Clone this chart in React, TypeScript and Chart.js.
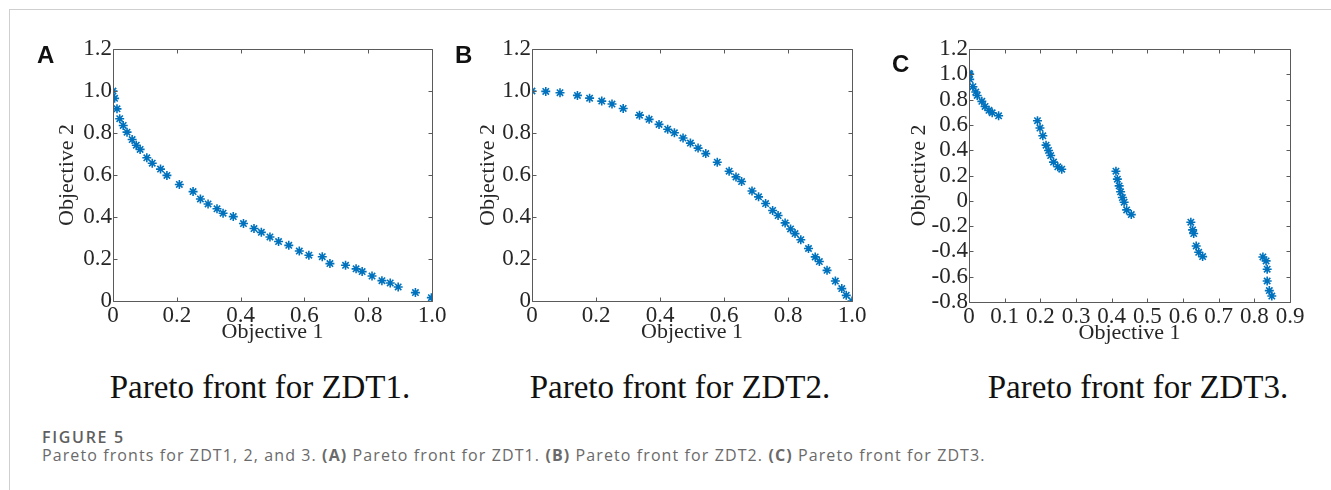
import React, { useEffect, useRef } from "react";
import { Chart, registerables } from "chart.js";

Chart.register(...registerables);

// ---------- Data ----------
const zdt1X = [0, 0.005, 0.0125, 0.021, 0.032, 0.044, 0.06, 0.073, 0.085, 0.106, 0.123, 0.149, 0.169, 0.208, 0.251, 0.274, 0.298, 0.326, 0.345, 0.377, 0.409, 0.442, 0.465, 0.492, 0.519, 0.551, 0.584, 0.614, 0.656, 0.68, 0.729, 0.762, 0.781, 0.812, 0.843, 0.869, 0.894, 0.948, 0.998];
const zdt1Y = [1.0, 0.965, 0.915, 0.868, 0.836, 0.804, 0.769, 0.742, 0.722, 0.682, 0.656, 0.628, 0.598, 0.555, 0.521, 0.486, 0.462, 0.439, 0.418, 0.402, 0.369, 0.345, 0.327, 0.305, 0.283, 0.265, 0.238, 0.218, 0.211, 0.178, 0.17, 0.153, 0.14, 0.119, 0.097, 0.086, 0.067, 0.04, 0.016];

const zdt2X = [0, 0.043, 0.0875, 0.142, 0.18, 0.218, 0.25, 0.285, 0.336, 0.366, 0.397, 0.424, 0.445, 0.472, 0.495, 0.519, 0.543, 0.579, 0.616, 0.6375, 0.655, 0.6875, 0.708, 0.73, 0.752, 0.769, 0.791, 0.808, 0.822, 0.84, 0.864, 0.885, 0.898, 0.922, 0.948, 0.968, 0.982, 1.0];
const zdt2Y = [1.0, 0.998, 0.992, 0.979, 0.966, 0.952, 0.938, 0.917, 0.885, 0.865, 0.841, 0.818, 0.801, 0.776, 0.752, 0.728, 0.702, 0.661, 0.618, 0.591, 0.569, 0.524, 0.496, 0.464, 0.431, 0.407, 0.372, 0.343, 0.321, 0.292, 0.25, 0.21, 0.188, 0.146, 0.095, 0.059, 0.027, 0];

const zdt3X = [0, 0.002, 0.002, 0.011, 0.019, 0.023, 0.036, 0.045, 0.056, 0.065, 0.083, 0.192, 0.199, 0.207, 0.216, 0.223, 0.229, 0.237, 0.249, 0.26, 0.412, 0.416, 0.421, 0.425, 0.43, 0.435, 0.442, 0.455, 0.622, 0.627, 0.63, 0.637, 0.644, 0.655, 0.824, 0.833, 0.836, 0.836, 0.842, 0.849];
const zdt3Y = [1.007, 1.0, 0.96, 0.902, 0.86, 0.833, 0.786, 0.746, 0.715, 0.696, 0.672, 0.633, 0.575, 0.514, 0.44, 0.398, 0.358, 0.306, 0.269, 0.25, 0.234, 0.171, 0.118, 0.071, 0.026, -0.011, -0.072, -0.109, -0.169, -0.23, -0.259, -0.357, -0.407, -0.441, -0.444, -0.475, -0.541, -0.634, -0.71, -0.753];

const panelLetters = ["A", "B", "C"];
const panelTitles = ["Pareto front for ZDT1.", "Pareto front for ZDT2.", "Pareto front for ZDT3."];
const xAxisTitle = "Objective 1";
const yAxisTitle = "Objective 2";
const figureLabel = "FIGURE 5";

const MARKER = "#0072BD";
const TEXT = "#262626";
const FRAME = "#5a5a5a";

const fmt = (v: number) => (Math.abs(v) < 1e-9 ? "0" : v.toFixed(1));

const framePlugin = {
  id: "matlabFrame",
  afterDraw(chart: any) {
    const { ctx, chartArea } = chart;
    const l = Math.round(chartArea.left) + 0.5;
    const r = Math.round(chartArea.right) + 0.5;
    const t = Math.round(chartArea.top) + 0.5;
    const b = Math.round(chartArea.bottom) + 0.5;
    const tl = 4;
    ctx.save();
    ctx.strokeStyle = FRAME;
    ctx.lineWidth = 1;
    ctx.beginPath();
    ctx.rect(l, t, r - l, b - t);
    const xs = chart.scales.x;
    xs.ticks.forEach((tk: any) => {
      const p = Math.round(xs.getPixelForValue(tk.value)) + 0.5;
      ctx.moveTo(p, b);
      ctx.lineTo(p, b - tl);
      ctx.moveTo(p, t);
      ctx.lineTo(p, t + tl);
    });
    const ys = chart.scales.y;
    ys.ticks.forEach((tk: any) => {
      const p = Math.round(ys.getPixelForValue(tk.value)) + 0.5;
      ctx.moveTo(l, p);
      ctx.lineTo(l + tl, p);
      ctx.moveTo(r, p);
      ctx.lineTo(r - tl, p);
    });
    ctx.stroke();
    ctx.restore();
  },
};

type PanelCfg = {
  xs: number[];
  ys: number[];
  xMin: number;
  xMax: number;
  xStep: number;
  yMin: number;
  yMax: number;
  yStep: number;
  left: number;
  top: number;
  width: number;
  height: number;
  yAxisWidth: number;
  xAxisHeight: number;
  padTop: number;
  padRight: number;
};

function Panel({ cfg }: { cfg: PanelCfg }) {
  const ref = useRef<HTMLCanvasElement | null>(null);
  useEffect(() => {
    if (!ref.current) return;
    const pts = cfg.xs.map((x, i) => ({ x, y: cfg.ys[i] }));
    const tickFont = { family: "'Liberation Serif', 'Times New Roman', serif", size: 23 };
    const titleFont = { family: "'Liberation Serif', 'Times New Roman', serif", size: 22 };
    const chart = new Chart(ref.current, {
      type: "scatter",
      data: {
        datasets: [
          {
            data: pts,
            pointStyle: "star",
            pointRadius: 4.5,
            pointBorderWidth: 1.6,
            borderColor: MARKER,
            backgroundColor: MARKER,
          },
        ],
      },
      options: {
        animation: false,
        responsive: false,
        maintainAspectRatio: false,
        layout: { padding: { top: cfg.padTop, right: cfg.padRight, left: 0, bottom: 0 } },
        plugins: { legend: { display: false }, tooltip: { enabled: false } },
        scales: {
          x: {
            type: "linear",
            min: cfg.xMin,
            max: cfg.xMax,
            grid: { display: false, drawTicks: false },
            border: { display: false },
            ticks: {
              stepSize: cfg.xStep,
              color: TEXT,
              font: tickFont,
              padding: 1,
              maxRotation: 0,
              autoSkip: false,
              callback: (v: any) => fmt(Number(v)),
            },
            title: { display: true, text: xAxisTitle, color: TEXT, font: titleFont, padding: 0 },
            afterFit: (s: any) => {
              s.height = cfg.xAxisHeight;
            },
          },
          y: {
            type: "linear",
            min: cfg.yMin,
            max: cfg.yMax,
            grid: { display: false, drawTicks: false },
            border: { display: false },
            ticks: {
              stepSize: cfg.yStep,
              color: TEXT,
              font: tickFont,
              padding: 1,
              autoSkip: false,
              callback: (v: any) => fmt(Number(v)),
            },
            title: { display: true, text: yAxisTitle, color: TEXT, font: titleFont, padding: 0 },
            afterFit: (s: any) => {
              s.width = cfg.yAxisWidth;
            },
          },
        },
      },
      plugins: [framePlugin],
    } as any);
    return () => chart.destroy();
  }, []);
  return (
    <canvas
      ref={ref}
      width={cfg.width}
      height={cfg.height}
      style={{ position: "absolute", left: cfg.left, top: cfg.top, width: cfg.width, height: cfg.height }}
    />
  );
}

const panels: PanelCfg[] = [
  { xs: zdt1X, ys: zdt1Y, xMin: 0, xMax: 1, xStep: 0.2, yMin: 0, yMax: 1.2, yStep: 0.2, left: 54, top: 30, width: 406, height: 315, yAxisWidth: 59, xAxisHeight: 44, padTop: 19, padRight: 28 },
  { xs: zdt2X, ys: zdt2Y, xMin: 0, xMax: 1, xStep: 0.2, yMin: 0, yMax: 1.2, yStep: 0.2, left: 475, top: 30, width: 405, height: 315, yAxisWidth: 57, xAxisHeight: 44, padTop: 19, padRight: 28 },
  { xs: zdt3X, ys: zdt3Y, xMin: 0, xMax: 0.9, xStep: 0.1, yMin: -0.8, yMax: 1.2, yStep: 0.2, left: 906, top: 30, width: 414, height: 316, yAxisWidth: 63, xAxisHeight: 44, padTop: 19, padRight: 30 },
];

const titleCenters = [260, 680, 1138];
const letterPos = [
  { left: 37, top: 43 },
  { left: 455, top: 43 },
  { left: 892, top: 52 },
];

export default function App() {
  return (
    <div
      style={{
        position: "absolute",
        left: 0,
        top: 0,
        width: 1331,
        height: 490,
        background: "#fff",
        overflow: "hidden",
      }}
    >
      <div style={{ position: "absolute", left: 9, top: 9, width: 1322, height: 1, background: "#cfcfcf" }} />
      <div style={{ position: "absolute", left: 9, top: 9, width: 1, height: 481, background: "#cfcfcf" }} />
      {panels.map((p, i) => (
        <Panel key={i} cfg={p} />
      ))}
      {panelLetters.map((l, i) => (
        <div
          key={l}
          style={{
            position: "absolute",
            left: letterPos[i].left,
            top: letterPos[i].top,
            font: "bold 24px 'Liberation Sans', Arial, sans-serif",
            lineHeight: "24px",
            color: "#111",
          }}
        >
          {l}
        </div>
      ))}
      {panelTitles.map((t, i) => (
        <div
          key={t}
          style={{
            position: "absolute",
            left: titleCenters[i] - 200,
            width: 400,
            top: 371,
            textAlign: "center",
            font: "33px 'Liberation Serif', 'Times New Roman', serif",
            lineHeight: "33px",
            color: "#111",
          }}
        >
          {t}
        </div>
      ))}
      <div
        style={{
          position: "absolute",
          left: 42,
          top: 429,
          font: "600 16px 'Open Sans', sans-serif",
          lineHeight: "16px",
          letterSpacing: "1.7px",
          color: "#5f5f5f",
          whiteSpace: "nowrap",
        }}
      >
        {figureLabel}
      </div>
      <div
        style={{
          position: "absolute",
          left: 42,
          top: 447,
          font: "16px 'Open Sans', sans-serif",
          lineHeight: "16px",
          letterSpacing: "1.1px",
          color: "#6a6a6a",
          whiteSpace: "nowrap",
        }}
      >
        Pareto fronts for ZDT1, 2, and 3. <b>(A)</b> Pareto front for ZDT1. <b>(B)</b> Pareto front for ZDT2. <b>(C)</b> Pareto front for ZDT3.
      </div>
    </div>
  );
}
